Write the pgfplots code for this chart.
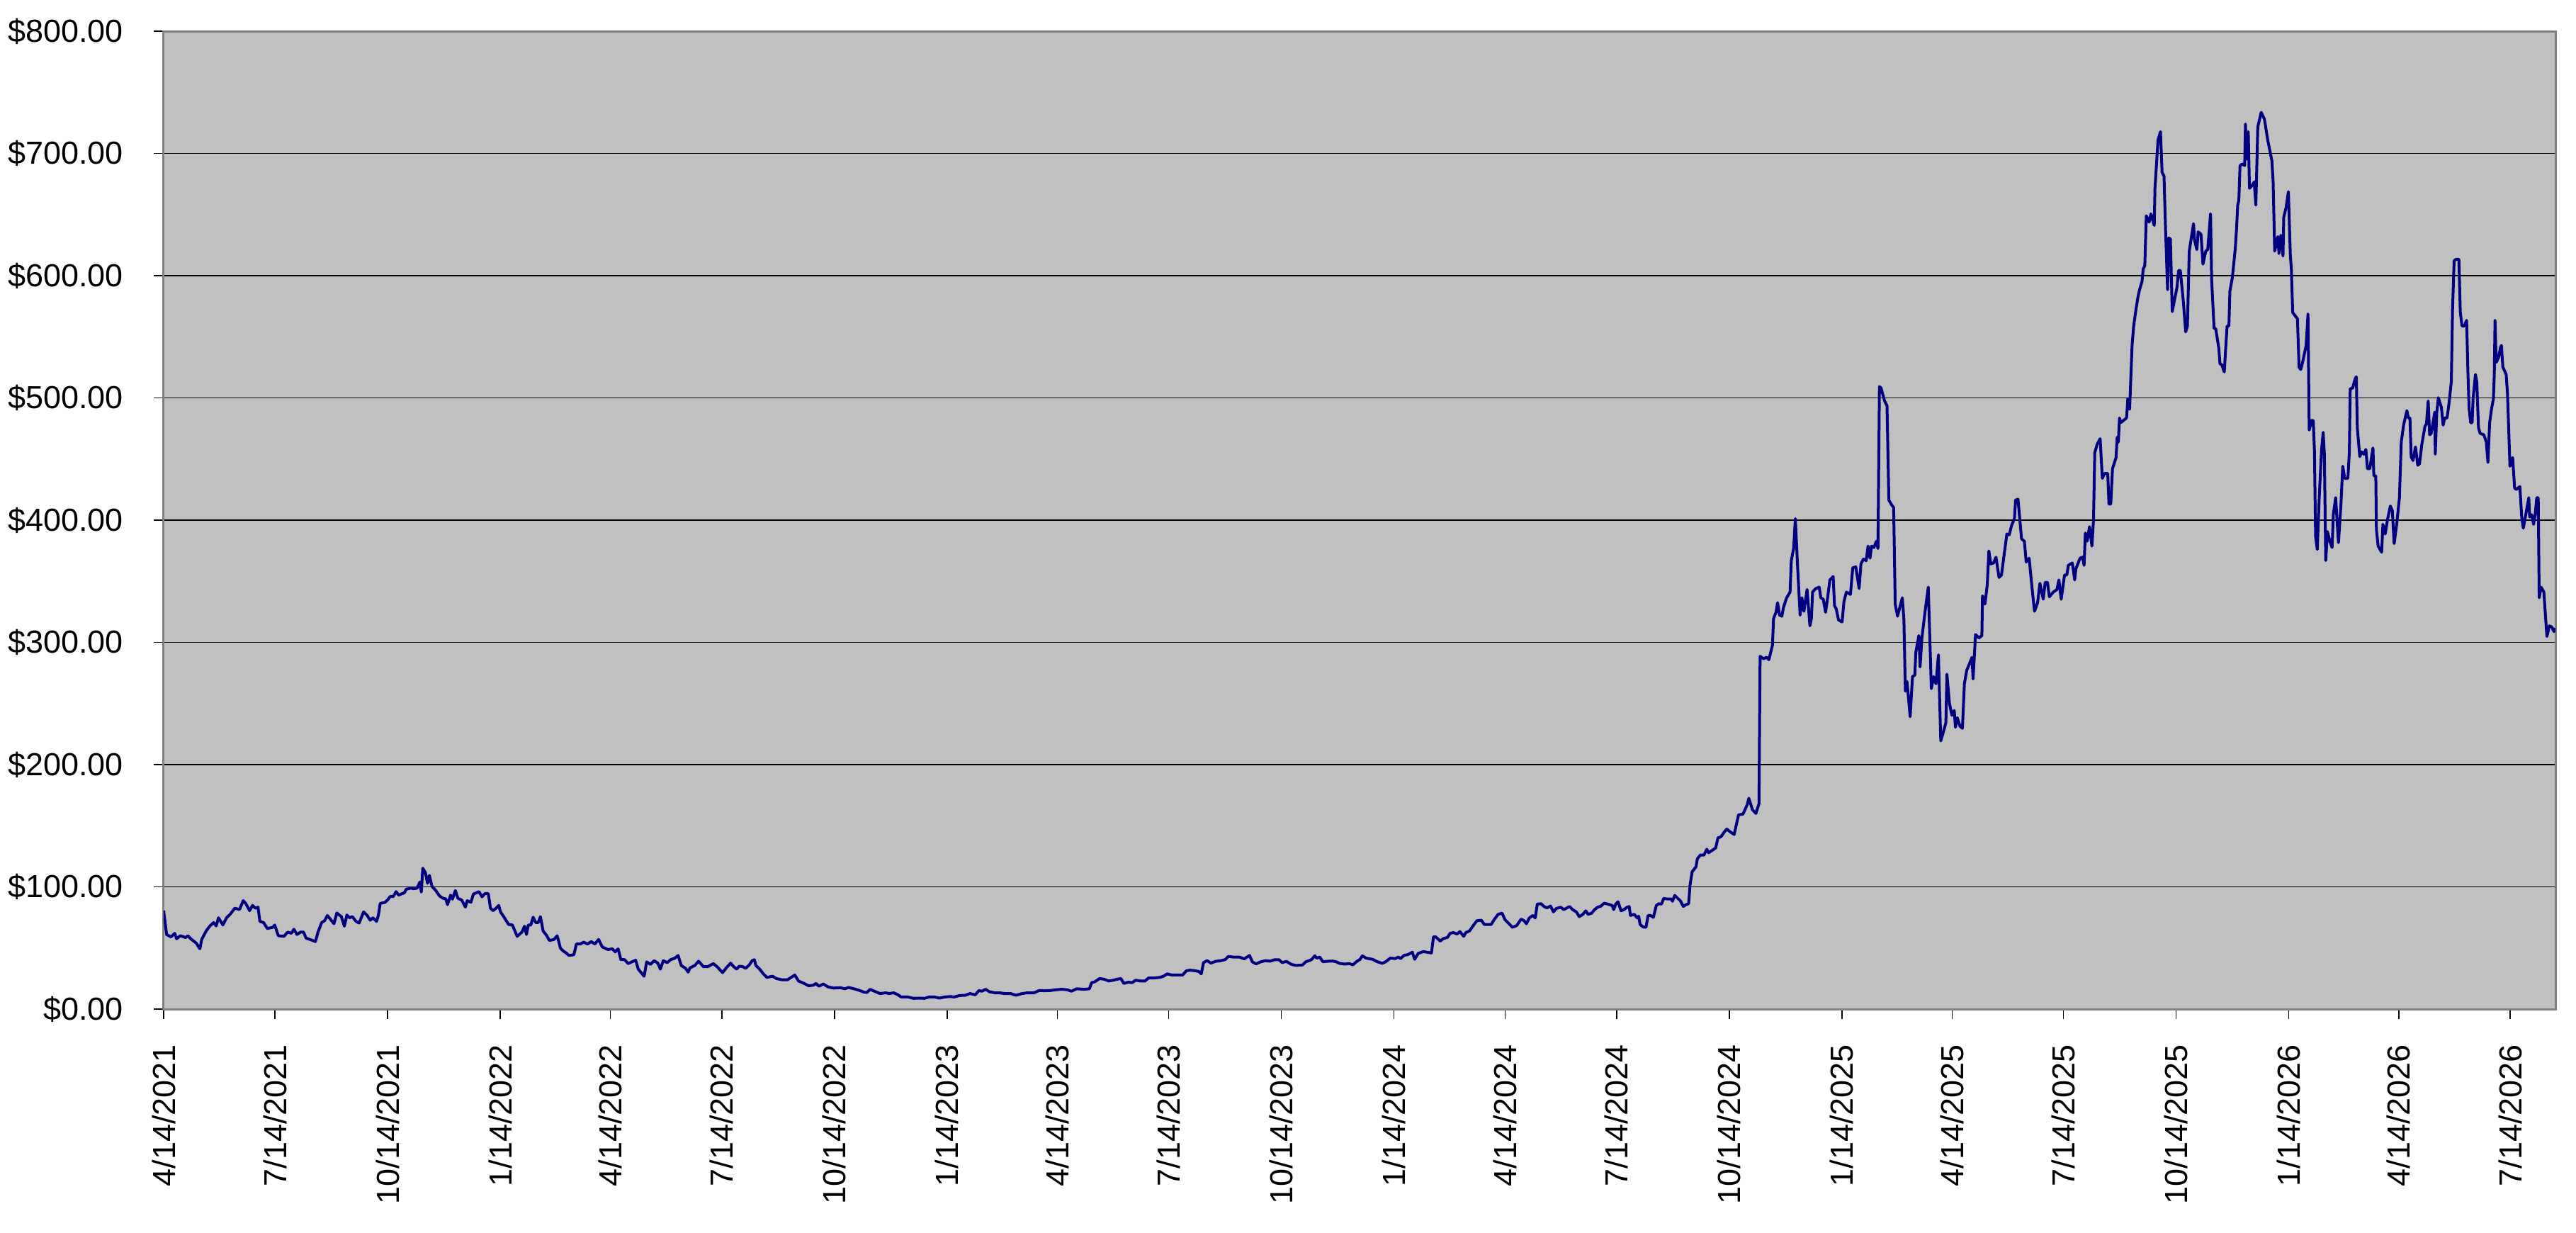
\documentclass[border=0pt]{standalone}
\usepackage{fontspec}
\setmainfont{Liberation Sans}
\usepackage{pgfplots}
\pgfplotsset{compat=1.18}
\definecolor{navyline}{HTML}{000080}
\definecolor{plotbg}{HTML}{C0C0C0}
\definecolor{frame}{HTML}{808080}
\begin{document}
\begin{tikzpicture}
\path[use as bounding box] (-46.2pt,-63pt) rectangle (681pt,284.8pt);
\begin{axis}[
  at={(0,0)}, anchor=south west,
  scale only axis,
  width=675.2pt, height=276pt,
  xmin=0, xmax=1954, ymin=0, ymax=800,
  axis background/.style={fill=plotbg},
  axis line style={draw=frame, line width=0.6pt},
  ytick={0,100,...,800},
  yticklabels={\$0.00,\$100.00,\$200.00,\$300.00,\$400.00,\$500.00,\$600.00,\$700.00,\$800.00},
  xtick={0,91,183,275,365,456,548,640,730,821,913,1005,1096,1187,1279,1371,1461,1552,1644,1736,1826,1917},
  xticklabels={4/14/2021,7/14/2021,10/14/2021,1/14/2022,4/14/2022,7/14/2022,10/14/2022,1/14/2023,4/14/2023,7/14/2023,10/14/2023,1/14/2024,4/14/2024,7/14/2024,10/14/2024,1/14/2025,4/14/2025,7/14/2025,10/14/2025,1/14/2026,4/14/2026,7/14/2026},
  tick align=outside,
  major tick length=2.8pt,
  tick style={draw=black, line width=0.3pt},
  xtick pos=bottom, ytick pos=left,
  minor tick num=0,
  ymajorgrids,
  grid style={draw=black, line width=0.25pt},
  xticklabel style={rotate=90, anchor=east, inner sep=0pt, font=\fontsize{9}{10.8}\selectfont},
  yticklabel style={anchor=east, inner sep=0pt, font=\fontsize{9}{10.8}\selectfont},
  xticklabel shift=7pt,
  yticklabel shift=8.4pt,
]
\addplot[navyline, line width=0.8pt, line join=round] table {
x y
0 80.5
2.4 61
6 59
9 62
10.6 57.5
13.6 60
18.1 58.5
19.7 60
22.7 57
26.6 54
29.6 49.3
31.1 57
34.8 64
37.8 68
40.8 70.8
42.9 68
44.8 74.7
48.4 68.8
51.4 74.7
54.4 77.6
58.1 82.5
62 81.5
65 88.7
67.1 86.4
70.2 80.5
72.6 84.8
75 82.5
77.1 83.4
78.6 71.7
81.6 70.8
84.7 65.9
89.2 66.9
90.7 68.8
93.7 60
98.3 59.5
101.3 63
104.3 62
106.4 65.3
108.9 61
111.9 63
114.3 63
116.4 58
119.4 57
124 55.2
126.1 63
129.1 70.8
131.5 72.3
133.7 76.6
136.1 73.7
139.1 69.8
141.5 78.6
145.2 75.6
147.6 67.8
149.7 77
151.8 74.7
154.2 75.6
157.2 71.7
159.7 70.4
163.3 79.5
166.3 76.6
168.7 72.7
170.9 74.7
173.9 71.7
175.4 76.6
176.9 86.4
180.8 87.3
183 89.3
185.1 92.2
187.5 92
189.9 96.1
192 93.2
194.1 94.2
196.6 95.1
198.1 98
202 99
204.1 98.4
207.1 99
209.3 103.9
210.5 95.7
211.7 115.2
213.8 111.7
215.6 102.9
217.1 109.4
219.2 100.4
222.3 97
225.3 92.6
228.3 90.6
230.4 90.2
231.9 85.4
234.4 93.2
235.9 89.9
238.3 97
240.4 90.6
243.4 89.3
246.5 83.4
248 88.7
251 87.3
253.1 94.2
255.5 95.1
257.6 96.1
260.1 91.8
262.5 94.5
265.2 94.5
267 82.5
269.1 80.5
271.6 82.5
273.7 84.8
275.2 79.5
278.2 75
281.8 69.2
284.9 68.8
288.8 59.5
292.7 63
294.8 67.8
296.4 61
297.9 68.8
300 68.8
301.8 75.2
303.9 70.8
306 70.8
307.8 75.6
310 63.9
313 60
315.1 56.1
319 57
321.5 60
324.2 49.7
326.6 47.4
329 45.8
331.1 43.9
335.1 44.4
337.2 53.2
340.2 53.2
343.2 54.8
346.3 53.2
349.3 55.2
352.3 53.2
355.3 57
358.3 50.9
362.9 48.7
366.5 49.3
368.9 46.8
371.3 49.3
373.5 40.5
376.5 40.5
379.5 37.2
382.5 38.6
385.6 40
387.7 32.7
392.5 26.9
394.6 38.6
397.7 36.6
400.7 39.6
403.7 37.6
405.8 32.7
408.2 39.6
411.3 38
414.3 40.5
417.3 41.5
420.3 43.9
422.8 35.7
426.4 33.3
428.5 30.2
430 33.7
434 35.7
437 39.2
440.9 34.7
444.5 34.7
449.1 37.2
452.1 34.7
456.6 29.8
459.6 33.7
463.2 37.6
465.7 34.7
468.1 32.7
470.2 35.1
473.2 34.7
475.4 33.3
478.4 36.1
480.8 39.6
482.6 40.4
483.8 35.7
486.9 32.7
489.9 28.8
492.9 25.9
497.4 26.9
500.5 25
505 24
509.6 24
512.6 25.9
515.6 27.9
518.6 23
523.2 21
526.8 19.1
530.7 19.5
532.9 21
535.3 18.7
538.9 20.5
542.9 18.1
547.4 17.2
552.8 17.5
556.5 16.6
559.5 17.7
564 16.6
568.6 15.2
572.2 13.8
574.6 13.6
577.1 16.2
580.7 14.6
585.2 12.7
589.8 13.3
592.8 12.7
596.4 13.3
599.5 11.9
602.5 9.9
607.9 9.9
612.5 8.8
617 9
621.6 8.8
625.5 9.9
629.7 9.9
633.7 9
638.2 9.9
642.7 10.3
645.8 9.9
650.3 11.1
654.9 11.3
658.8 12.7
663 11.7
666.1 15.2
668.5 14.6
671.5 16.2
674.5 14.2
679.1 13.3
683 13.3
687.2 12.7
692.1 12.7
696.3 11.3
701.2 12.7
705.4 13.3
710.9 13.3
715.4 15.2
719.9 15
724.5 15.2
729 15.8
733.6 16.2
738.1 15.8
741.7 14.6
745.7 16.6
751.7 16.2
756.3 16.6
758.1 21.6
760.8 22.4
764.7 25
768.4 24.4
772 23
775.9 23.6
778.9 24.4
782 25
784.4 21
788 22
791.1 21.6
794.1 23.6
798 23
801.7 23
804.7 25.5
809.2 25.5
813.8 25.9
816.8 26.9
819.8 28.8
823.5 27.9
828.9 27.9
832.5 27.9
835.6 31.4
838.6 31.8
842.5 31.4
845.6 30.8
847.7 28.8
849.5 38
852.5 39.6
855.5 37.6
859.2 39
863.7 39.6
867.3 40.5
869.8 43.1
874.3 42.5
878.9 42.5
882.8 41.1
887.1 43.9
889.4 38.6
892.5 37
896.1 38.6
900.1 39.6
904 39.2
907.6 40.4
911.2 40.4
913.7 38
917.3 39
921.2 36.6
925.2 35.7
930.3 36.1
933.2 38.8
936.1 39.7
938 40.7
940.4 43.6
942.1 41.7
944.5 42.6
946.9 38.8
950.5 39.1
954.8 39.3
957.7 38.8
960.6 37.4
964.9 36.8
968.5 37.2
971.6 36.2
974.5 38.8
977.4 40.7
979.3 43.6
982.2 41.7
987.7 40.7
991.3 38.8
995.6 37.4
998.5 38.8
1002.1 41.7
1006.2 41.3
1008.6 42.6
1010.5 41.3
1013.4 44
1016.5 44.6
1020.1 46.5
1022 40.7
1024.9 45.5
1029.3 47.1
1032.1 46.5
1035.7 45.9
1037.4 59.1
1039.3 59.1
1042.9 55.6
1045.3 57.6
1048.9 58.7
1050.9 62
1053.7 62.6
1056.6 61.4
1059 63.4
1062.1 59.5
1063.8 62.6
1066.9 64
1070.5 69.2
1072.9 72.3
1076.5 72.7
1078.9 69.2
1084.5 69.2
1086.9 73.1
1090.2 77.5
1093.4 78.5
1095.8 73.1
1098.2 70.7
1101.8 66.9
1105.4 68.4
1109 73.6
1111.4 72.3
1113.3 69.8
1115.7 74.6
1118.6 76.6
1120.5 74.6
1122.2 85.9
1125.3 86.2
1127.7 83.9
1130.1 82.8
1133 84.3
1135.4 79.5
1137.8 82.4
1141.4 83.3
1143.8 81.4
1148.6 83.9
1151 81.4
1154.1 79.5
1156.5 75.6
1159.4 77.5
1161.8 80.4
1163.7 77.5
1166.6 78.5
1169 81.4
1171.4 83.3
1174.3 84.3
1176.7 86.6
1179.8 85.9
1183.4 84.7
1184.6 81.4
1186.3 85.9
1188.2 87.8
1190.6 80.4
1193 81.4
1195.4 83.3
1197.3 83.9
1198.3 76.6
1201.4 77.5
1203.8 74.6
1205 76
1206.2 69.2
1208.6 67.2
1211 66.9
1212.7 76.6
1214.6 76.6
1217 75
1219.4 84.7
1221.3 86.2
1223.7 85.9
1225.4 90.5
1228.5 90.1
1231.4 90.1
1232.6 88.2
1234.5 93
1237.4 90.1
1239.1 88.6
1241.5 83.9
1243.4 85.3
1245.8 86.2
1247 101.7
1248.7 112.4
1251.8 116.3
1253 123.1
1255.4 126
1258.3 126
1260.7 130.8
1262.1 127.9
1265 129.8
1267.9 131.8
1269.8 140.1
1272.2 140.9
1274.6 144.4
1277 147.3
1279.4 145.3
1283 142.8
1286.6 158.9
1290.2 159.5
1292.6 164.7
1293.8 167.6
1295 172.5
1297.9 163.2
1300.8 160.1
1303.3 168
1304.2 288.6
1307.1 286.6
1309.5 287.8
1311.4 285.8
1314.3 297.7
1315.2 319.5
1317.2 324.6
1318.5 332.5
1320.1 322.2
1322 321.4
1323.3 328.6
1325.9 336.5
1328.7 341.2
1329.7 366.9
1331.6 376.8
1333 401.3
1334.9 361
1336.9 322.2
1338.4 336.5
1340 325.4
1342.6 343.2
1344.9 313.5
1346.1 319.5
1347.1 341.2
1349.6 344
1352.5 345.2
1353.8 336.5
1355.8 335.3
1357.7 324.6
1359.2 335.3
1361.2 351.1
1363.9 353.9
1365 330.1
1366.4 327.4
1368.3 318.3
1371.2 316.7
1372.7 333.3
1374.7 341.2
1378 339.2
1379.9 361
1382.4 361.8
1385.1 344
1386.6 364.2
1388.6 368.1
1390.9 366.9
1392.4 378.8
1394 368.9
1395.3 378.8
1397.2 377.6
1399.2 382.8
1400.5 376.8
1401.7 509.3
1403 508.1
1405.9 497.5
1407.9 493.5
1409.4 416.4
1411.7 412.4
1413.3 410.4
1414.6 331.3
1416.5 321.4
1418.5 329.3
1420.4 336.5
1421.7 318.3
1422.9 260.1
1424.2 268
1426.8 239.2
1428.7 272
1430.6 273.2
1431.4 291.8
1433.9 305.6
1434.9 279.9
1436.4 303.6
1439.1 326.2
1441.6 345.2
1444.1 262.1
1446 272
1447.9 266.1
1449.9 289.8
1451.8 219.4
1454.1 227.3
1456 234.4
1456.8 274
1458.9 250.2
1460.9 240.3
1462.8 244.3
1463.8 230.5
1465.3 238.4
1467.6 231.3
1469.5 229.7
1471.1 266.1
1473 277.1
1475.3 282.7
1477.3 287.8
1478.2 270
1480.2 306.4
1483 303.6
1485.4 305.6
1485.9 338.1
1487.9 331.3
1489.8 347.2
1491.1 374.8
1492.7 364.2
1495 365
1496.9 369.7
1499.4 353.1
1501.4 355.1
1505.8 388.7
1507.7 387.9
1509.7 395.8
1512 401.3
1512.9 416.4
1514.9 417.2
1517.8 384.7
1520.1 382.8
1521.6 365.7
1524 368.9
1526.5 343.2
1528.4 325.4
1530.9 332.5
1532.8 348.3
1535.5 335.3
1537.1 349.1
1539 349.1
1540.5 337.3
1543.8 341.2
1546.7 343.2
1548.3 351.1
1550.2 335.3
1552.9 355.1
1554.8 355.1
1556 363
1559.3 365
1561.2 351.1
1562.2 360.2
1565.6 368.9
1567.6 369.7
1568.9 363
1569.9 389.5
1571.4 382.8
1573.3 394.6
1575.3 378.8
1576.6 400.6
1577.6 455.1
1579.5 461.9
1582 466.6
1583.8 434.2
1585.7 438.2
1588.2 438.2
1589.2 413.2
1590.7 413.2
1592.1 442.1
1595 451.2
1595.9 467.8
1596.9 463.9
1597.8 483.6
1598.8 479.7
1603.6 483.6
1604.6 499.4
1606.1 490.7
1608.1 543
1609.4 558.8
1611.3 572.6
1612.9 582.5
1614.2 588.5
1616.2 595.2
1617.2 605.5
1618.5 608.2
1619.7 649
1622 643.8
1623.5 650.6
1626.2 641.1
1626.8 671.5
1629.3 711.1
1631.3 717.8
1632.6 684.6
1634.2 681.4
1635.5 635.9
1637.1 588.5
1638 630.8
1639.4 630
1640.9 570.6
1643.2 582.5
1644.8 590.4
1646.1 604.3
1647.5 604.3
1650 578.6
1651.9 554
1653.3 558.8
1654.8 620.1
1658.3 642.6
1659.1 629.2
1661 621.3
1662.1 635.9
1664.4 633.9
1666 609.4
1668.3 620.1
1669.9 621.3
1672.2 650.6
1673.1 596.4
1675.1 556.8
1676.4 556.8
1678.9 541
1679.9 527.9
1681.4 527.1
1683.4 521.2
1685.7 558.8
1687.2 558.8
1688 587.3
1690 598.3
1692.4 622.1
1693.4 637.9
1694.4 657.7
1695.3 661.6
1696.3 690.1
1698.2 691.3
1700.1 690.1
1700.7 724.1
1702.1 695.3
1703 717.8
1704 671.5
1705.9 673.5
1707.9 676.7
1709.2 657.7
1710.8 721.8
1713.6 733.6
1716.2 728.1
1718.9 711.1
1722.3 694.1
1723.3 677.5
1724.6 620.1
1727.2 632
1728.1 618.1
1729.7 633.1
1731.4 616.1
1732 647.8
1733.9 655.7
1735.8 668.7
1737.4 616.1
1738.2 606.3
1739.3 569.9
1743.2 564.7
1744.5 525.2
1745.9 523.2
1747.4 529.1
1750.3 543
1751.8 568.7
1752.8 473.7
1754.7 481.6
1756.1 481.6
1757.1 455.9
1758 386.7
1759.4 376
1760.9 416.4
1762.9 457.9
1764.2 471.8
1765.2 453.9
1766.3 366.9
1767.7 390.7
1769.6 382.8
1771.5 377.6
1772.5 404.5
1774.4 418.4
1776.7 381.6
1778.7 412.4
1780.2 444.1
1781.8 434.2
1784.4 434.2
1785.6 455.9
1786.3 507.4
1788.3 508.1
1790.2 515.3
1791.3 517.3
1792.1 475.7
1794.1 451.9
1795.6 455.9
1797.5 453.9
1799.1 457.9
1800.4 442.1
1802.3 442.1
1804.9 459.1
1805.6 436.2
1807.2 436.2
1807.7 392.6
1809.1 378.8
1812 373.7
1813 396.6
1814.9 388.7
1816.8 400.6
1819.1 411.6
1820.7 407.7
1822.2 380.8
1824.5 398.6
1826.5 418.4
1828 463.8
1829.9 477.7
1832.6 489.6
1833.8 483.6
1835.1 483.6
1836.1 451.9
1837.6 448.8
1839.6 459.9
1841.5 444.9
1842.9 446.1
1844.8 461.9
1847.3 476.5
1848.6 478.9
1850 497.5
1851.2 469.8
1852.5 471
1853.9 479.7
1855.4 488.4
1855.8 454
1857 487.6
1858.3 500.2
1860.8 492.3
1862.2 477.7
1863.5 483.6
1865.4 483.6
1867 495.5
1868.9 513.3
1869.9 572.6
1871.2 612.2
1872.8 613.4
1875.1 613.4
1876.2 570.6
1877.6 558.8
1879.5 558.8
1881.4 563.5
1882.4 523.2
1883.4 491.5
1884.7 479.7
1885.9 479.7
1886.7 499.4
1888.6 519.2
1889.7 513.3
1891.1 475.7
1892.4 471
1895.5 469.8
1897.5 463.8
1898.8 447.2
1900.2 479.7
1901.7 490.7
1903.3 499.4
1904 519.2
1904.6 563.5
1905.6 529.1
1907.5 533.1
1909 541
1909.8 543
1911 525.2
1912.3 522.4
1913.7 519.2
1914.8 503.4
1916.8 444.1
1919 451.2
1920.6 426.3
1922 425.1
1924.9 427.5
1926.4 402.5
1927.7 393.4
1929.7 404.5
1932.2 418.4
1932.9 402.5
1934.5 404.5
1936.1 396.6
1937.4 404.5
1938.7 418.4
1939.9 418.4
1940.7 336.5
1942.2 345.2
1944.5 341.2
1946.1 317.5
1947 304.8
1949 313.5
1950.9 312.7
1952.8 308.8
1954 311.6
};
\end{axis}
\end{tikzpicture}
\end{document}
